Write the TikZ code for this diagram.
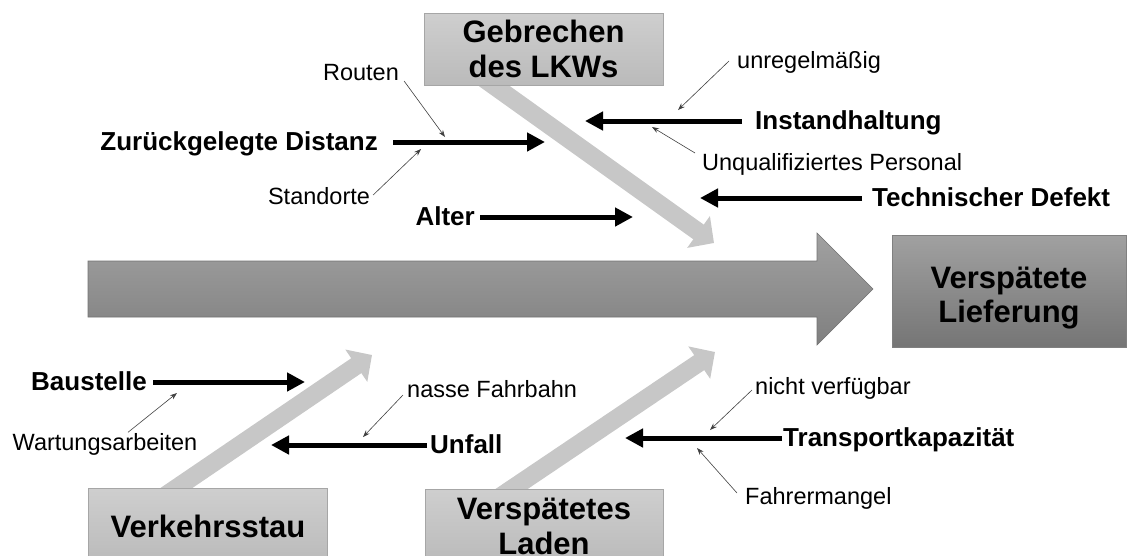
\documentclass[tikz,border=0pt]{standalone}
\usepackage{fontspec}
\setmainfont{Liberation Sans}
\usetikzlibrary{arrows.meta}
\usetikzlibrary{backgrounds}
\usetikzlibrary{positioning}

\begin{document}
\begin{tikzpicture}[x=1pt, y=-1pt,
	catbox/.style={draw=black!35, top color=black!19, bottom color=black!27, minimum width=239pt, minimum height=72pt, inner sep=0pt, align=center, font=\fontsize{31}{35}\selectfont\bfseries},
	effbox/.style={draw=black!50, top color=black!37, bottom color=black!54, minimum width=234pt, minimum height=112pt, inner sep=0pt, text height=69pt, align=center, font=\fontsize{31}{34}\selectfont\bfseries},
	cause/.style={inner ysep=0pt, text height=19pt, text depth=3pt, font=\fontsize{26}{30}\selectfont\bfseries},
	sub/.style={inner sep=0pt, text height=17pt, text depth=2pt, font=\fontsize{23.5}{26}\selectfont},
	bone/.style={line width=5pt, -{Triangle[length=18pt, width=18pt]}},
	pointer/.style={draw=black!75, line width=0.6pt, -{Stealth[length=7pt, width=5pt]}},
	fish/.style={line width=18pt, black!22, -{Triangle[length=19pt, width=38pt]}}]
	\useasboundingbox (0,0) rectangle (1127,555);

	\shade[draw=black!55, line width=0.6pt, top color=black!37, bottom color=black!50] (88,261) -- (817,261) -- (817,233) -- (873,289) -- (817,345) -- (817,317) -- (88,317) -- cycle;

	\node [catbox] (gebrechen) at (543.5,49) {Gebrechen\\des LKWs};
	\node [catbox, minimum height=76pt] (verkehr) at (208,526) {Verkehrsstau};
	\node [catbox, minimum width=238pt, minimum height=74pt] (laden) at (544,526) {Verspätetes\\Laden};
	\node [effbox] (lieferung) at (1009,291) {Verspätete\\Lieferung};

	\begin{pgfonlayer}{background}
		\coordinate (gebrechentip) at (714,243);
		\draw[fish] ([xshift=-70pt,yshift=14pt]gebrechen.south) -- (gebrechentip);
		\coordinate (verkehrtip) at (372,355);
		\draw[fish] ([xshift=-46pt,yshift=-10pt]verkehr.north) -- (verkehrtip);
		\coordinate (ladentip) at (715,352);
		\draw[fish] ([xshift=-48.5pt,yshift=-11pt]laden.north) -- (ladentip);
	\end{pgfonlayer}

	\node [cause, anchor=east, inner xsep=15pt] (distanz) at (393,142) {Zurückgelegte Distanz};
	\coordinate (distanzend) at (545,142);
	\draw[bone] (distanz.east) -- (distanzend);
	\node [cause, anchor=east, inner xsep=5pt] (alter) at (480,217) {Alter};
	\coordinate (alterend) at (633,217);
	\draw[bone] (alter.east) -- (alterend);
	\node [cause, anchor=west, inner xsep=13pt] (instand) at (742,121) {Instandhaltung};
	\coordinate (instandend) at (585,121);
	\draw[bone] (instand.west) -- (instandend);
	\node [cause, anchor=west, inner xsep=10pt] (defekt) at (862,198) {Technischer Defekt};
	\coordinate (defektend) at (700,198);
	\draw[bone] (defekt.west) -- (defektend);
	\node [cause, anchor=east, inner xsep=6pt] (baustelle) at (153,382) {Baustelle};
	\coordinate (baustelleend) at (305,382);
	\draw[bone] (baustelle.east) -- (baustelleend);
	\node [cause, anchor=west, inner xsep=3pt] (unfall) at (427,445) {Unfall};
	\coordinate (unfallend) at (271,445);
	\draw[bone] (unfall.west) -- (unfallend);
	\node [cause, anchor=west, inner xsep=1pt] (kapazitaet) at (782,438) {Transportkapazität};
	\coordinate (kapazitaetend) at (625,438);
	\draw[bone] (kapazitaet.west) -- (kapazitaetend);

	\node [sub] (routen) at (361,73) {Routen};
	\coordinate (routentip) at (445,137);
	\draw[pointer] ([xshift=5pt,yshift=-8pt]routen.east) -- (routentip);
	\node [sub] (standorte) at (319,197) {Standorte};
	\coordinate (standortetip) at (421,149);
	\draw[pointer] ([xshift=3pt,yshift=2pt]standorte.east) -- (standortetip);
	\node [sub, anchor=west] (unregel) at (737,61) {unregelmäßig};
	\coordinate (unregeltip) at (678,110);
	\draw[pointer] ([xshift=-8pt]unregel.west) -- (unregeltip);
	\node [sub, anchor=west] (personal) at (702,163) {Unqualifiziertes Personal};
	\coordinate (personaltip) at (652,127);
	\draw[pointer] ([xshift=-7pt,yshift=10pt]personal.west) -- (personaltip);
	\node [sub] (wartung) at (105,443) {Wartungsarbeiten};
	\coordinate (wartungtip) at (177,393);
	\draw[pointer] ([xshift=23pt,yshift=1pt]wartung.north) -- (wartungtip);
	\node [sub, anchor=west] (nasse) at (407,390) {nasse Fahrbahn};
	\coordinate (nassetip) at (363,437);
	\draw[pointer] ([xshift=-4pt,yshift=-5pt]nasse.west) -- (nassetip);
	\node [sub, anchor=west] (verfuegbar) at (755,387) {nicht verfügbar};
	\coordinate (verfuegbartip) at (710,430);
	\draw[pointer] ([xshift=-3pt,yshift=-3pt]verfuegbar.west) -- (verfuegbartip);
	\node [sub, anchor=west] (fahrer) at (745,497) {Fahrermangel};
	\coordinate (fahrertip) at (697,448);
	\draw[pointer] ([xshift=-8pt,yshift=4pt]fahrer.west) -- (fahrertip);
\end{tikzpicture}
\end{document}
